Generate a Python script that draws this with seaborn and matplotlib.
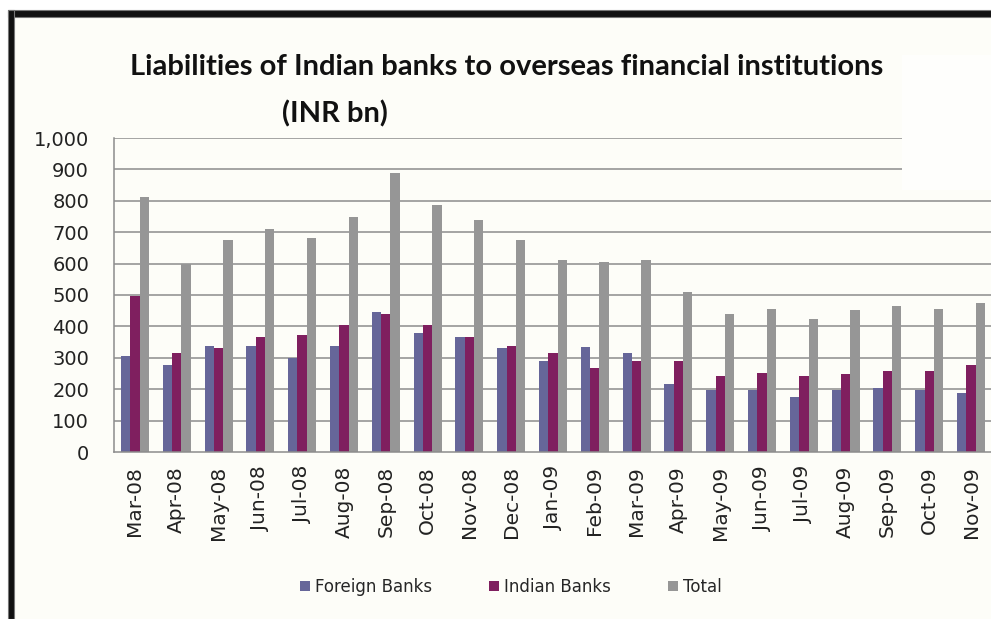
import pandas as pd
import numpy as np
import matplotlib
matplotlib.use("Agg")
import matplotlib.pyplot as plt
from matplotlib.patches import Rectangle
from matplotlib.ticker import FuncFormatter, FixedLocator
import seaborn as sns

# Daten (INR bn)
monate = ["Mar-08", "Apr-08", "May-08", "Jun-08", "Jul-08", "Aug-08", "Sep-08",
          "Oct-08", "Nov-08", "Dec-08", "Jan-09", "Feb-09", "Mar-09", "Apr-09",
          "May-09", "Jun-09", "Jul-09", "Aug-09", "Sep-09", "Oct-09", "Nov-09"]
foreign_banks = [306, 278, 339, 339, 300, 339, 447, 380, 365, 331, 291, 335, 316, 218,
                 197, 197, 176, 199, 204, 197, 189]
indian_banks = [498, 316, 331, 365, 374, 403, 438, 403, 365, 339, 316, 268, 291, 291,
                243, 252, 243, 248, 257, 257, 277]
total = [811, 598, 676, 710, 681, 748, 889, 787, 738, 676, 612, 606, 612, 510,
         441, 456, 422, 451, 466, 456, 476]
serien = ["Foreign Banks", "Indian Banks", "Total"]
farben = ["#666699", "#7f1f5f", "#969696"]
y_ticks = list(range(0, 1001, 100))

df = pd.DataFrame({"Monat": monate * 3,
                   "Wert": foreign_banks + indian_banks + total,
                   "Serie": [serien[0]] * len(monate) + [serien[1]] * len(monate) + [serien[2]] * len(monate)})

sns.set_style("white")
plt.rcParams["font.family"] = ["DejaVu Sans"]

W, H = 991, 619
fig = plt.figure(figsize=(W / 100, H / 100), dpi=100)
fig.patch.set_facecolor("white")

def px(x0, y0, x1, y1):
    # Pixel-Rechteck -> Figurenkoordinaten
    return (x0 / W, 1 - y1 / H), (x1 - x0) / W, (y1 - y0) / H

bg = "#fdfdf8"
# innerer Hintergrund und Rahmen
xy, w, h = px(9, 11, W, H)
fig.patches.append(Rectangle(xy, w, h, transform=fig.transFigure, facecolor=bg, edgecolor="none", zorder=-2))
for r in [(8, 10, W, 17), (8, 10, 14, H)]:
    xy, w, h = px(*r)
    fig.patches.append(Rectangle(xy, w, h, transform=fig.transFigure, facecolor="#111111",
                                 edgecolor="#777777", linewidth=0.8, zorder=-1))

# Plotbereich
ax_l, ax_r, ax_t, ax_b = 114, 992, 138, 452
ax = fig.add_axes([ax_l / W, 1 - ax_b / H, (ax_r - ax_l) / W, (ax_b - ax_t) / H])
ax.set_facecolor(bg)

sns.barplot(data=df, x="Monat", y="Wert", hue="Serie", palette=farben, saturation=1,
            width=0.67, linewidth=0, ax=ax, zorder=2)

ax.set_xlim(-0.5, len(monate) - 0.5)
ax.set_ylim(0, 1000)

# Gitterlinien (die oberen zwei enden unter dem Titelkasten)
for v in y_ticks[1:]:
    xmax = 0.897 if v >= 900 else 1.0
    ax.axhline(v, xmin=0, xmax=xmax, color="#8c8c8c", linewidth=1.1, zorder=0.5)

for s in ["top", "right"]:
    ax.spines[s].set_visible(False)
for s in ["left", "bottom"]:
    ax.spines[s].set_color("#8c8c8c")
    ax.spines[s].set_linewidth(1.1)

ax.set_yticks(y_ticks)
ax.yaxis.set_major_formatter(FuncFormatter(lambda v, p: f"{int(v):,}"))
ax.tick_params(axis="y", length=6, width=1.1, color="#8c8c8c", pad=12, labelsize=14, labelcolor="#222222")

ax.set_xticks(range(len(monate)))
ax.set_xticklabels(monate, rotation=90, fontsize=14.5, color="#222222")
ax.xaxis.set_minor_locator(FixedLocator(np.arange(-0.5, len(monate), 1.0)))
ax.tick_params(axis="x", which="major", length=0, pad=10)
ax.tick_params(axis="x", which="minor", length=6, width=1.1, color="#8c8c8c")
ax.set_xlabel("")
ax.set_ylabel("")

ax.legend_.remove()
handles = [Rectangle((0, 0), 1, 1, facecolor=c, edgecolor="none") for c in farben]
fig.legend(handles, serien, loc="center", bbox_to_anchor=(511 / W, 1 - 587 / H), ncol=3,
           frameon=False, handlelength=0.6, handleheight=0.6, handletextpad=0.3,
           columnspacing=3.4, prop={"family": ["DejaVu Sans"], "size": 12})

# Titelkasten rechts oben (nur leicht heller als der Hintergrund)
xy, w, h = px(902, 55, W, 190)
fig.patches.append(Rectangle(xy, w, h, transform=fig.transFigure, facecolor="#fefefc", edgecolor="none", zorder=3))

fig.text(507 / W, 1 - 67 / H, "Liabilities of Indian banks to overseas financial institutions",
         ha="center", va="center", fontsize=21, fontweight="bold", family=["Lato", "DejaVu Sans"], color="#111111")
fig.text(335 / W, 1 - 114 / H, "(INR bn)", ha="center", va="center", fontsize=21,
         fontweight="bold", family=["Lato", "DejaVu Sans"], color="#111111")

fig.savefig("out.png", dpi=100, facecolor=fig.get_facecolor())
